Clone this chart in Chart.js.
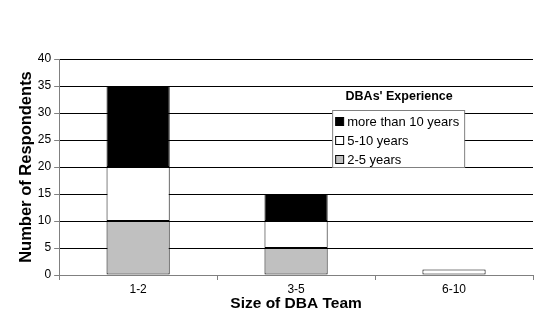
<!DOCTYPE html>
<html>
<head>
<meta charset="utf-8">
<script src="https://cdn.jsdelivr.net/npm/chart.js@4/dist/chart.umd.min.js"></script>
<style>
  html, body { margin: 0; padding: 0; background: #fff; }
  #wrap { width: 537px; height: 325px; }
</style>
</head>
<body>
<div id="wrap"><canvas id="chartDba"></canvas></div>
<script>
// Team size vs. DBA experience (stacked)
const teamSizes = ['1-2', '3-5', '6-10'];
const years2to5 = [10, 5, 0];
const years5to10 = [10, 5, 1];
const yearsOver10 = [15, 5, 0];
const yTicks = [0, 5, 10, 15, 20, 25, 30, 35, 40];

const FONT = 'Liberation Sans, Arial, sans-serif';

// legend drawn inside the plot area, title above the box
const boxLegend = {
  id: 'boxLegend',
  afterDraw(chart) {
    const { ctx, chartArea } = chart;
    const x = chartArea.left + 273, y = chartArea.top + 51;
    const w = 132, h = 57;
    ctx.save();
    ctx.font = 'bold 12.5px ' + FONT;
    ctx.fillStyle = '#000';
    ctx.textAlign = 'center';
    ctx.textBaseline = 'middle';
    ctx.fillText("DBAs' Experience", x + w / 2 + 1, y - 13);
    ctx.fillStyle = '#fff';
    ctx.fillRect(x, y, w, h);
    ctx.strokeStyle = '#808080';
    ctx.lineWidth = 1;
    ctx.strokeRect(x + 0.5, y + 0.5, w, h);
    const items = [...chart.data.datasets].reverse();
    ctx.font = '13px ' + FONT;
    ctx.textAlign = 'left';
    items.forEach((ds, i) => {
      const ry = y + 12 + i * 19;
      ctx.fillStyle = ds.backgroundColor;
      ctx.fillRect(x + 3.5, ry - 4.5, 8, 8);
      ctx.strokeStyle = '#000';
      ctx.strokeRect(x + 3.5, ry - 4.5, 8, 8);
      ctx.fillStyle = '#000';
      ctx.fillText(ds.label, x + 15, ry);
    });
    ctx.restore();
  }
};

const mk = (label, data, color) => ({
  label, data,
  backgroundColor: color,
  borderColor: '#000',
  borderWidth: 1,
  borderSkipped: false,
  barPercentage: 0.4,
  categoryPercentage: 1.0
});

new Chart(document.getElementById('chartDba'), {
  type: 'bar',
  data: {
    labels: teamSizes,
    datasets: [
      mk('2-5 years', years2to5, '#c0c0c0'),
      mk('5-10 years', years5to10, '#ffffff'),
      mk('more than 10 years', yearsOver10, '#000000')
    ]
  },
  options: {
    responsive: true,
    maintainAspectRatio: false,
    animation: false,
    layout: { padding: { top: 59, right: 4, bottom: 12, left: 13 } },
    plugins: { legend: { display: false }, tooltip: { enabled: false } },
    scales: {
      x: {
        stacked: true,
        grid: { drawOnChartArea: false, drawTicks: true, tickLength: 5, offset: true, color: '#808080' },
        border: { color: '#808080' },
        ticks: { color: '#000', font: { family: FONT, size: 12 }, padding: 2 },
        title: { display: true, text: 'Size of DBA Team', color: '#000', font: { family: FONT, size: 15.5, weight: 'bold' }, padding: { top: -4, bottom: 0 } }
      },
      y: {
        stacked: true,
        min: 0, max: 40,
        afterBuildTicks: axis => { axis.ticks = yTicks.map(v => ({ value: v })); },
        grid: { color: '#000', tickColor: '#808080', tickLength: 5 },
        border: { color: '#808080' },
        ticks: { color: '#000', font: { family: FONT, size: 12 }, padding: 3 },
        title: { display: true, text: 'Number of Respondents', color: '#000', font: { family: FONT, size: 16.5, weight: 'bold' }, padding: { bottom: -2 } }
      }
    }
  },
  plugins: [boxLegend]
});
</script>
</body>
</html>
